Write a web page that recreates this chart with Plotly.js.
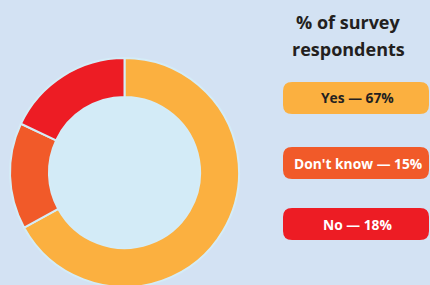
<!DOCTYPE html>
<html><head><meta charset="utf-8">
<script src="https://cdn.plot.ly/plotly-3.0.1.min.js"></script>
<style>html,body{margin:0;padding:0;overflow:hidden;background:#d3e2f3;}#chart{width:430px;height:287px;}</style>
</head><body><div id="chart"></div>
<script>
const labels = ["Yes", "Don't know", "No"];
const values = [67, 15, 18];
const colors = ["#fbb040", "#f15a29", "#ed1c24"];
const textColors = ["#231f20", "#ffffff", "#ffffff"];
const legendTitleLines = ["% of survey", "respondents"];

const W = 430, H = 287;
const px = x => x / W;
const py = y => (H - y) / H;

const cx = 124.5, cy = 172.5, R = 114.5, hole = 0.66;
const FONT = '"Open Sans", sans-serif';

function roundRect(x0, y0, x1, y1, r) {
  const p = (x, y) => px(x) + ',' + py(y);
  return 'M' + p(x0 + r, y0) + ' L' + p(x1 - r, y0) + ' Q' + p(x1, y0) + ' ' + p(x1, y0 + r) +
    ' L' + p(x1, y1 - r) + ' Q' + p(x1, y1) + ' ' + p(x1 - r, y1) +
    ' L' + p(x0 + r, y1) + ' Q' + p(x0, y1) + ' ' + p(x0, y1 - r) +
    ' L' + p(x0, y0 + r) + ' Q' + p(x0, y0) + ' ' + p(x0 + r, y0) + ' Z';
}

const boxTops = [82, 147, 208];
const boxH = 32, boxX0 = 283, boxX1 = 429;
const titleYs = [22, 49];

const shapes = [{
  type: 'circle', xref: 'paper', yref: 'paper', layer: 'below',
  x0: px(cx - R * hole - 1), x1: px(cx + R * hole + 1),
  y0: py(cy + R * hole + 1), y1: py(cy - R * hole - 1),
  fillcolor: '#d3ebf7', line: {width: 0}
}];
const annotations = [];
legendTitleLines.forEach((line, i) => {
  annotations.push({
    xref: 'paper', yref: 'paper', x: px(348.5), y: py(titleYs[i]), xanchor: 'center', yanchor: 'middle',
    text: '<b>' + line + '</b>', showarrow: false, align: 'center',
    font: {family: FONT, size: 18, color: '#231f20'}
  });
});
labels.forEach((lab, i) => {
  const t = boxTops[i];
  shapes.push({type: 'path', xref: 'paper', yref: 'paper', layer: 'above',
    path: roundRect(boxX0, t, boxX1, t + boxH, 9), fillcolor: colors[i], line: {width: 0}});
  annotations.push({xref: 'paper', yref: 'paper', x: px(357.5), y: py(t + boxH / 2),
    xanchor: 'center', yanchor: 'middle', showarrow: false,
    text: '<b>' + lab + ' — ' + values[i] + '%</b>',
    font: {family: FONT, size: 13.8, color: textColors[i]}});
});

const data = [{
  type: 'pie', labels: labels, values: values, sort: false, direction: 'clockwise', rotation: 0,
  hole: hole, textinfo: 'none', hoverinfo: 'none',
  marker: {colors: colors, line: {color: '#d4ecf7', width: 2}},
  domain: {x: [px(cx - R), px(cx + R)], y: [py(cy + R), py(cy - R)]},
  showlegend: false
}];
const layout = {
  width: W, height: H, margin: {l: 0, r: 0, t: 0, b: 0},
  paper_bgcolor: '#d3e2f3', plot_bgcolor: '#d3e2f3',
  shapes: shapes, annotations: annotations, showlegend: false
};
Plotly.newPlot('chart', data, layout, {displayModeBar: false, staticPlot: true});
</script></body></html>
